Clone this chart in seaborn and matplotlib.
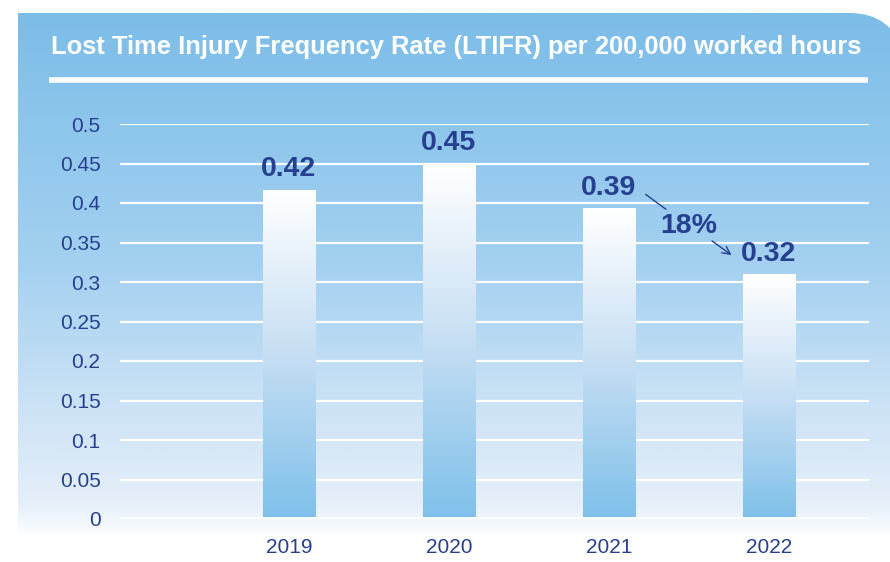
import numpy as np
import pandas as pd
import matplotlib
matplotlib.use("Agg")
import matplotlib.pyplot as plt
from matplotlib.path import Path
from matplotlib.patches import PathPatch
from matplotlib.colors import LinearSegmentedColormap
import seaborn as sns

# ---- data ----
years = ["2019", "2020", "2021", "2022"]
ltifr = [0.417, 0.45, 0.394, 0.31]
value_labels = ["0.42", "0.45", "0.39", "0.32"]
y_ticks = [0, 0.05, 0.1, 0.15, 0.2, 0.25, 0.3, 0.35, 0.4, 0.45, 0.5]
y_tick_labels = ["0", "0.05", "0.1", "0.15", "0.2", "0.25", "0.3", "0.35", "0.4", "0.45", "0.5"]
change_label = "18%"
title = "Lost Time Injury Frequency Rate (LTIFR) per 200,000 worked hours"

sns.set_theme(style="white")
plt.rcParams['font.family'] = ['Liberation Sans', 'DejaVu Sans']

NAVY = "#26408f"
W, H = 890, 562
fig = plt.figure(figsize=(W / 100, H / 100), dpi=100)
fig.patch.set_facecolor("white")

# ---- background panel ----
bg = fig.add_axes([0, 0, 1, 1])
bg.set_xlim(0, W)
bg.set_ylim(H, 0)
bg.axis("off")
stops = [(0.0, "#7cbde8"), (0.45, "#a3d0f0"), (0.8, "#d8e8f7"), (0.9, "#e6f0fa"), (0.96, "#ffffff"), (1.0, "#ffffff")]
cmap_bg = LinearSegmentedColormap.from_list("bg", stops)
grad = np.linspace(0, 1, 400).reshape(-1, 1)
im = bg.imshow(grad, cmap=cmap_bg, aspect="auto", extent=[18, 910, 562, 13], zorder=0)
verts = [(18, 562), (18, 13), (850, 13), (892, 13), (905, 55), (905, 562), (18, 562)]
codes = [Path.MOVETO, Path.LINETO, Path.LINETO, Path.CURVE3, Path.CURVE3, Path.LINETO, Path.CLOSEPOLY]
panel = PathPatch(Path(verts, codes), facecolor="none", edgecolor="none")
bg.add_patch(panel)
im.set_clip_path(panel)

bg.text(456, 47, title, color="white", fontsize=18.4, fontweight="bold",
        ha="center", va="center", family=["Liberation Sans", "DejaVu Sans"])
bg.plot([49, 868], [80, 80], color="white", lw=4, solid_capstyle="butt")

# ---- main chart ----
ax = fig.add_axes([120 / W, 1 - 519 / H, 749 / W, 395 / H])
ax.patch.set_alpha(0)
df = pd.DataFrame({"year": years, "ltifr": ltifr})
sns.barplot(data=df, x="year", y="ltifr", ax=ax, width=0.33, color="#7fc0ea",
            saturation=1, zorder=3)
ax.set_yticks(y_ticks)
ax.set_yticklabels(y_tick_labels)
ax.set_xlabel("")
ax.set_ylabel("")
for s in ax.spines.values():
    s.set_visible(False)
ax.tick_params(axis="y", length=0, pad=14, labelsize=15, labelcolor=NAVY)
ax.tick_params(axis="x", length=0, pad=14, labelsize=15, labelcolor=NAVY)
for t in y_ticks[1:]:
    ax.axhline(t, color="white", lw=1.6, zorder=1)
ax.axhline(0, color="white", lw=3.5, zorder=4)

# gradient fill for bars
bar_cmap = LinearSegmentedColormap.from_list("bar", ["#7fc0ea", "#c6def3", "#ffffff"])
for p in ax.patches:
    x0, y0 = p.get_x(), p.get_y()
    w, h = p.get_width(), p.get_height()
    g = np.linspace(0, 1, 200).reshape(-1, 1)
    gi = ax.imshow(g, cmap=bar_cmap, aspect="auto", origin="lower",
                   extent=[x0, x0 + w, y0, y0 + h], zorder=3.5)
    gi.set_clip_path(p)
    p.set_facecolor("none")
    p.set_edgecolor("none")
ax.set_xlim(-1.056, 3.625)
ax.set_ylim(0, 0.5)

for i, (v, lab) in enumerate(zip(ltifr, value_labels)):
    ax.annotate(lab, (i, v), xytext=(0, 14.5), textcoords="offset points",
                ha="center", va="center", fontsize=20.5, fontweight="bold",
                color=NAVY, zorder=6, annotation_clip=False)

# change annotation between 2021 and 2022
ax.text(2.5, 0.371, change_label, ha="center", va="center", fontsize=20.5,
        fontweight="bold", color=NAVY, zorder=6)
ax.annotate("", xy=(2.37, 0.39), xytext=(2.215, 0.413),
            arrowprops=dict(arrowstyle="-", color=NAVY, lw=1.0), zorder=6)
ax.annotate("", xy=(2.78, 0.332), xytext=(2.63, 0.354),
            arrowprops=dict(arrowstyle="->", color=NAVY, lw=1.0, mutation_scale=14), zorder=6)

fig.savefig("out.png", dpi=100)
